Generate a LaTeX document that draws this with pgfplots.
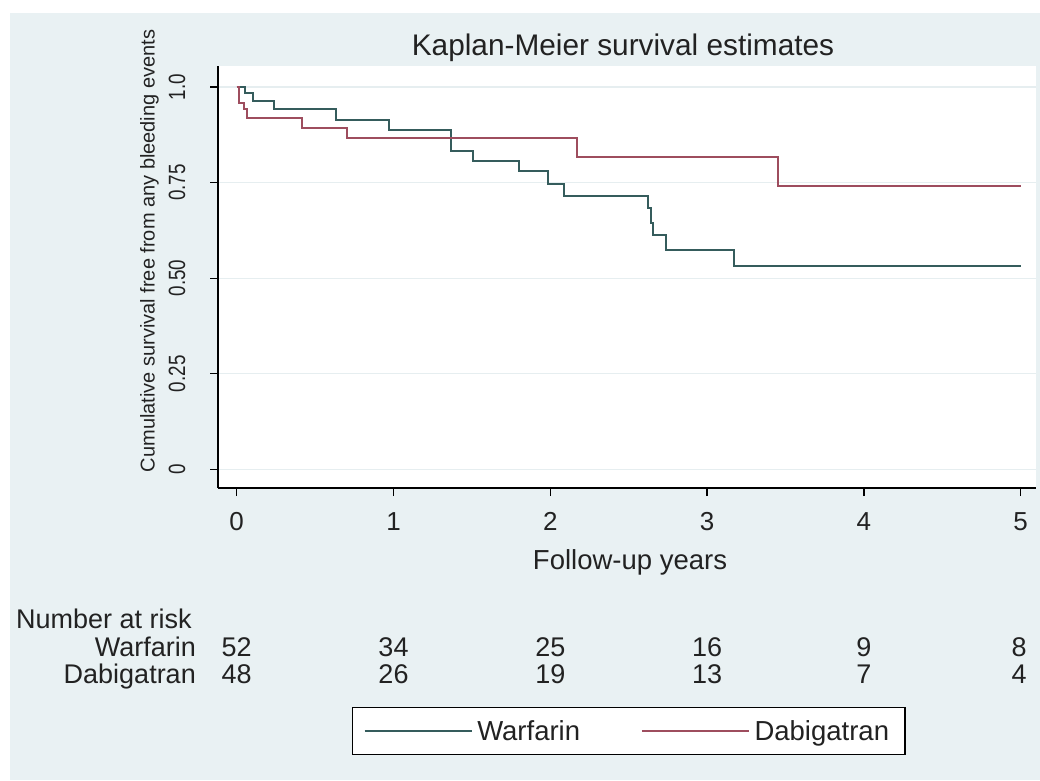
\documentclass[border=0pt]{standalone}
\usepackage{fontspec}
\setmainfont{Liberation Sans}
\newfontfamily\condfont[FakeStretch=0.8]{Liberation Sans}
\usepackage{pgfplots}
\pgfplotsset{compat=1.18}
\definecolor{bgc}{HTML}{E9F1F3}
\definecolor{warf}{HTML}{355C5C}
\definecolor{dabi}{HTML}{9E4D5E}
\definecolor{gridc}{HTML}{E6EEF0}
\definecolor{txt}{HTML}{222222}
\begin{document}
\begin{tikzpicture}[x=1pt,y=1pt]
\useasboundingbox (0,0) rectangle (1040,780);
\fill[white] (0,0) rectangle (1040,780);
\fill[bgc] (10,0) rectangle (1040,767);
\begin{axis}[
  at={(218pt,292pt)}, anchor=south west,
  scale only axis, width=818pt, height=421.5pt,
  xmin=-0.1193, xmax=5.0976, ymin=-0.0489, ymax=1.0536,
  axis x line*=bottom, axis y line*=left,
  axis line style={-, black, line width=1.3pt},
  tick align=outside, major tick length=8pt,
  tick style={black, line width=1.3pt},
  xtick={0,1,2,3,4,5}, xticklabels={0,1,2,3,4,5},
  ytick={0,0.25,0.5,0.75,1}, yticklabels={0,0.25,0.50,0.75,1.0},
  /pgf/number format/assume math mode=true,
  ymajorgrids, grid style={gridc, line width=1.2pt},
  xticklabel shift=13pt,
  yticklabel shift=25pt,
  xticklabel style={font=\fontsize{26}{30}\selectfont, text=txt},
  yticklabel style={font=\condfont\fontsize{23.5}{28}\selectfont, rotate=90, anchor=base, text=txt},
  axis background/.style={fill=white},
  legend columns=2,
  legend image code/.code={\draw[#1, line width=1.4pt] (0pt,0pt) -- (107pt,0pt);},
  legend style={at={(0.5024,-0.5765)}, anchor=center, draw=black, line width=1.2pt,
    fill=white, inner xsep=11pt, inner ysep=8pt, text=txt,
    font=\fontsize{27.5}{32}\selectfont,
    nodes={inner xsep=5pt, inner ysep=5pt},
    /tikz/every even column/.append style={column sep=56pt}},
]
\addplot[const plot, warf, line width=2pt] coordinates {
(0,1.0) (0.053,0.985) (0.106,0.963) (0.240,0.942) (0.631,0.914) (0.971,0.888)
(1.365,0.833) (1.509,0.807) (1.802,0.780) (1.983,0.747) (2.089,0.714)
(2.620,0.683) (2.640,0.645) (2.653,0.613) (2.738,0.574) (3.173,0.532) (5.0,0.532)};
\addlegendentry{Warfarin}
\addplot[const plot, dabi, line width=2pt] coordinates {
(0,1.0) (0.015,0.959) (0.048,0.942) (0.068,0.920) (0.415,0.892) (0.702,0.866)
(2.170,0.818) (3.454,0.742) (5.0,0.742)};
\addlegendentry{Dabigatran}
\end{axis}
\node[anchor=base, inner sep=0, text=txt, font=\fontsize{29.8}{34}\selectfont] at (623,724) {Kaplan-Meier survival estimates};
\node[rotate=90, anchor=base, inner sep=0, text=txt, font=\fontsize{20}{24}\selectfont] at (154.5,529) {Cumulative survival free from any bleeding events};
\node[anchor=base, inner sep=0, text=txt, font=\fontsize{27.5}{32}\selectfont] at (630,211) {Follow-up years};
\begin{scope}[every node/.style={inner sep=0, text=txt, font=\fontsize{27}{32}\selectfont}]
\node[anchor=base west] at (16,152) {Number at risk};
\node[anchor=base east] at (196,124) {Warfarin};
\node[anchor=base east] at (196,97) {Dabigatran};
\node[anchor=base] at (236.7,124) {52};
\node[anchor=base] at (393.5,124) {34};
\node[anchor=base] at (550.3,124) {25};
\node[anchor=base] at (707.1,124) {16};
\node[anchor=base] at (863.9,124) {9};
\node[anchor=base] at (1019,124) {8};
\node[anchor=base] at (236.7,97) {48};
\node[anchor=base] at (393.5,97) {26};
\node[anchor=base] at (550.3,97) {19};
\node[anchor=base] at (707.1,97) {13};
\node[anchor=base] at (863.9,97) {7};
\node[anchor=base] at (1019,97) {4};
\end{scope}
\end{tikzpicture}
\end{document}
